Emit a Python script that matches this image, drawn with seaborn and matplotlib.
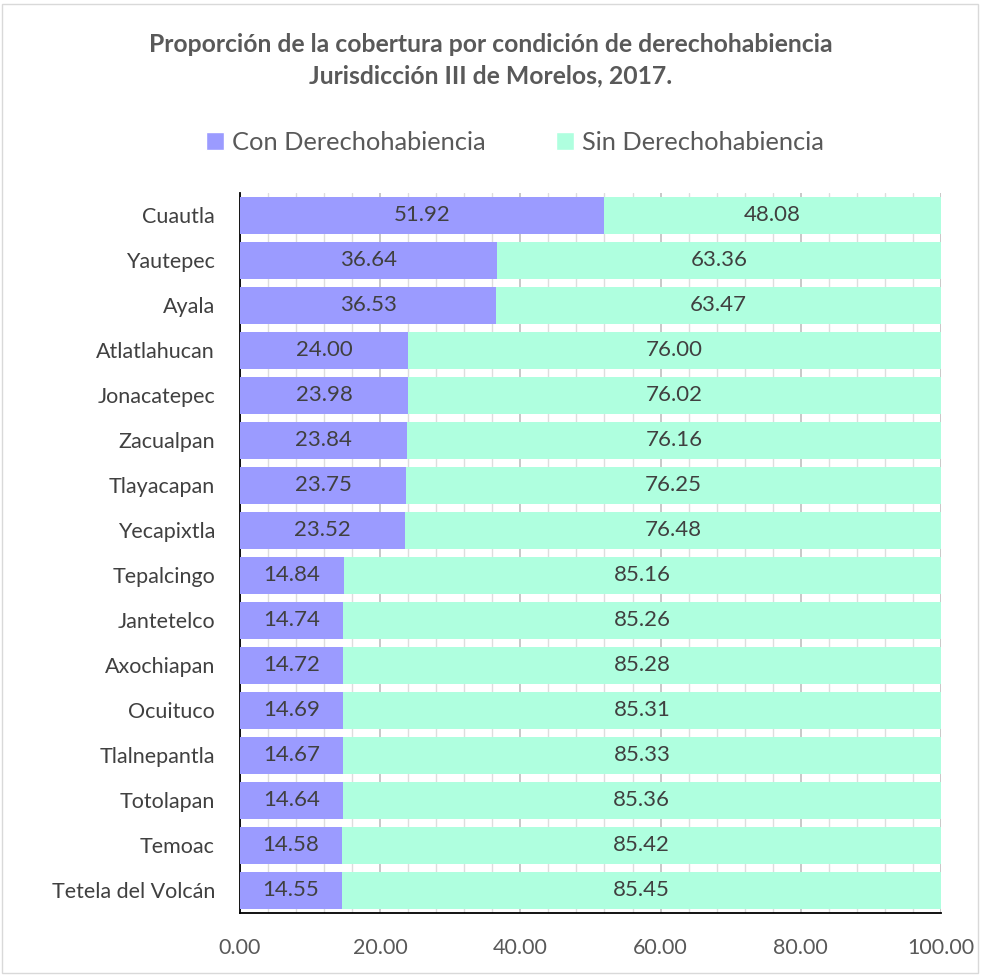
import matplotlib
matplotlib.use("Agg")
import matplotlib.pyplot as plt
import pandas as pd
import seaborn as sns
from matplotlib.patches import Patch, Rectangle
from matplotlib.ticker import MultipleLocator, FormatStrFormatter

municipios = ['Cuautla', 'Yautepec', 'Ayala', 'Atlatlahucan', 'Jonacatepec', 'Zacualpan',
              'Tlayacapan', 'Yecapixtla', 'Tepalcingo', 'Jantetelco', 'Axochiapan', 'Ocuituco',
              'Tlalnepantla', 'Totolapan', 'Temoac', 'Tetela del Volcán']
con_derecho = [51.92, 36.64, 36.53, 24.00, 23.98, 23.84, 23.75, 23.52,
               14.84, 14.74, 14.72, 14.69, 14.67, 14.64, 14.58, 14.55]
sin_derecho = [48.08, 63.36, 63.47, 76.00, 76.02, 76.16, 76.25, 76.48,
               85.16, 85.26, 85.28, 85.31, 85.33, 85.36, 85.42, 85.45]

df = pd.DataFrame({'municipio': municipios, 'con': con_derecho, 'sin': sin_derecho})
df['total'] = df['con'] + df['sin']

col_con = '#9B9BFF'
col_sin = '#AFFFDF'
txt = '#404040'

sns.set_style('white')
plt.rcParams['font.family'] = ['Lato', 'DejaVu Sans']

fig = plt.figure(figsize=(9.81, 9.75), dpi=100)
ax = fig.add_axes([0.2446, 0.0636, 0.7146, 0.7385])

# stacked look: full bar (sin) behind, con on top
sns.barplot(data=df, x='total', y='municipio', color=col_sin, orient='h', width=0.84,
            saturation=1, linewidth=0, ax=ax, zorder=2)
sns.barplot(data=df, x='con', y='municipio', color=col_con, orient='h', width=0.84,
            saturation=1, linewidth=0, ax=ax, zorder=3)

for i, row in df.iterrows():
    ax.text(row['con'] / 2, i, f"{row['con']:.2f}", ha='center', va='center',
            fontsize=16, color=txt, zorder=4)
    ax.text(row['con'] + row['sin'] / 2, i, f"{row['sin']:.2f}", ha='center', va='center',
            fontsize=16, color=txt, zorder=4)

ax.set_xlim(0, 100)
ax.set_ylim(len(df) - 0.5, -0.5)
ax.xaxis.set_major_locator(MultipleLocator(20))
ax.xaxis.set_minor_locator(MultipleLocator(4))
ax.xaxis.set_major_formatter(FormatStrFormatter('%.2f'))
ax.set_axisbelow(True)
ax.grid(True, axis='x', which='major', color='#BFBFBF', lw=1.2, zorder=0)
ax.grid(True, axis='x', which='minor', color='#DDDDDD', lw=1.0, zorder=0)

ax.set_yticks(range(len(df)))
ax.set_yticklabels(municipios)
ax.set_yticks([i + 0.5 for i in range(-1, len(df))], minor=True)
ax.tick_params(axis='y', which='major', length=0, pad=18, labelsize=15.5, labelcolor=txt)
ax.tick_params(axis='y', which='minor', direction='in', length=5, width=1.2, color='black')
ax.tick_params(axis='x', which='major', direction='in', length=7, width=1.2, color='black',
               pad=18, labelsize=15.5, labelcolor='#595959')
ax.tick_params(axis='x', which='minor', length=0)
ax.set_xlabel('')
ax.set_ylabel('')

for s in ['top', 'right']:
    ax.spines[s].set_visible(False)
for s in ['left', 'bottom']:
    ax.spines[s].set_color('black')
    ax.spines[s].set_linewidth(1.3)

fig.text(0.5, 0.954, 'Proporción de la cobertura por condición de derechohabiencia',
         ha='center', va='center', fontsize=17.8, fontweight='bold', color='#595959')
fig.text(0.5, 0.922, 'Jurisdicción III de Morelos, 2017.',
         ha='center', va='center', fontsize=17.8, fontweight='bold', color='#595959')

handles = [Patch(facecolor=col_con, label='Con Derechohabiencia'),
           Patch(facecolor=col_sin, label='Sin Derechohabiencia')]
fig.legend(handles=handles, loc='center', bbox_to_anchor=(0.525, 0.854), ncol=2, frameon=False,
           fontsize=18.3, labelcolor='#595959', handlelength=0.7, handleheight=0.7,
           handletextpad=0.3, columnspacing=2.8)

fig.patches.append(Rectangle((0.002, 0.002), 0.995, 0.994, transform=fig.transFigure,
                             fill=False, edgecolor='#D9D9D9', lw=1))

fig.savefig('out.png', dpi=100, facecolor='white')
